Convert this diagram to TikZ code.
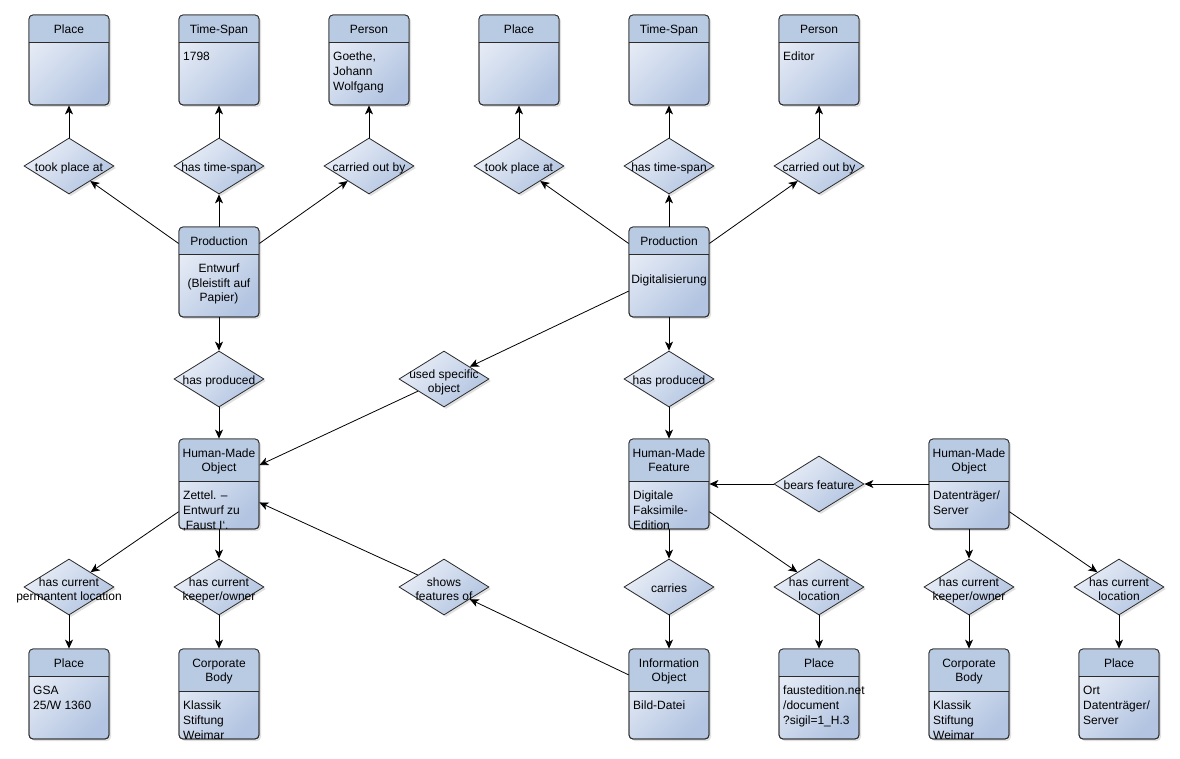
\documentclass[tikz,border=0pt]{standalone}
\usepackage{fontspec}
\setmainfont{Liberation Sans}
\usetikzlibrary{shapes.geometric,arrows.meta,shadows}

\definecolor{headc}{HTML}{B9CAE3}
\definecolor{lightc}{HTML}{E9EEF7}
\definecolor{darkc}{HTML}{B2C4E1}
\definecolor{linec}{HTML}{2B2B2B}

\tikzset{
  entbox/.style={draw=linec, line width=0.8pt, rounded corners=4pt, minimum width=80pt, minimum height=90pt, inner sep=0pt,
    left color=lightc, right color=darkc, shading angle=45,
    drop shadow={shadow xshift=2pt, shadow yshift=-2pt, fill=black, opacity=0.12}},
  reldia/.style={diamond, draw=linec, line width=0.8pt, minimum width=90pt, minimum height=56pt, inner sep=0pt,
    left color=lightc, right color=darkc, shading angle=45,
    drop shadow={shadow xshift=2pt, shadow yshift=-2pt, fill=black, opacity=0.12}},
  htext/.style={font=\fontsize{12}{14}\selectfont, align=center, inner sep=0pt, anchor=north},
  dtext/.style={font=\fontsize{12}{14.5}\selectfont, align=center, inner sep=0pt, anchor=north},
  btext/.style={font=\fontsize{12}{15}\selectfont, align=left, inner sep=0pt, anchor=north west},
  ctext/.style={font=\fontsize{12}{14.5}\selectfont, align=center, inner sep=0pt},
  edge/.style={-{Stealth[length=9pt,width=8pt,inset=2.5pt]}, line width=0.8pt, black},
}

% \ent{name}{cx}{ytop}{headh}{header}
\newcommand\ent[5]{%
  \node[entbox] (#1) at (#2,#3+45) {};
  \begin{scope}
    \clip[rounded corners=4pt] (#2-40,#3) rectangle (#2+40,#3+90);
    \fill[headc] (#2-40,#3) rectangle (#2+40,#3+#4);
  \end{scope}
  \draw[linec, line width=0.8pt] (#2-40,#3+#4) -- (#2+40,#3+#4);
  \draw[linec, line width=0.8pt, rounded corners=4pt] (#2-40,#3) rectangle (#2+40,#3+90);
  \node[htext] (#1h) at (#2,#3+8.7) {\strut #5};
}
% \bod{name}{cx}{ytop}{headh}{text}
\newcommand\bod[5]{%
  \node[btext] (#1) at (#2-36,#3+#4+7.5) {\strut #5};
}
% \rel{name}{cx}{cy}{text offset}{text}
\newcommand\rel[5]{%
  \node[reldia] (#1) at (#2,#3) {};
  \node[dtext] (#1t) at (#2,#3+#4) {\strut #5};
}

\begin{document}
\begin{tikzpicture}[x=1pt,y=-1pt]
\fill[white] (0,0) rectangle (1180,759);
\useasboundingbox (0,0) rectangle (1180,759);

% ---------- top row entities
\ent{placeA}{69}{15}{27}{Place}
\ent{timeA}{219}{15}{27}{Time-Span}
\bod{timeAb}{219}{15}{27}{1798}
\ent{persA}{369}{15}{27}{Person}
\bod{persAb}{369}{15}{27}{Goethe,\\Johann\\Wolfgang}
\ent{placeB}{519}{15}{27}{Place}
\ent{timeB}{669}{15}{27}{Time-Span}
\ent{persB}{819}{15}{27}{Person}
\bod{persBb}{819}{15}{27}{Editor}

% ---------- first row relations
\rel{tookA}{69}{166}{-5}{took place at}
\rel{tsA}{219}{166}{-5}{has time-span}
\rel{carA}{369}{166}{-5}{carried out by}
\rel{tookB}{519}{166}{-5}{took place at}
\rel{tsB}{669}{166}{-5}{has time-span}
\rel{carB}{819}{166}{-5}{carried out by}

% ---------- productions
\ent{prodA}{219}{227}{27}{Production}
\node[ctext] (prodAb) at (219,284) {Entwurf\\(Bleistift auf\\Papier)};
\ent{prodB}{669}{227}{27}{Production}
\node[ctext, anchor=base] (prodBb) at (669,283.5) {Digitalisierung};

% ---------- second row relations
\rel{hpA}{219}{379}{-5}{has produced}
\rel{used}{444}{379}{-11}{used specific\\object}
\rel{hpB}{669}{379}{-5}{has produced}

% ---------- middle entities
\ent{hmoA}{219}{439}{42.5}{Human-Made\\Object}
\bod{hmoAb}{219}{439}{42.5}{Zettel. –\\Entwurf zu\\‚Faust I‘.}
\ent{hmf}{669}{439}{42.5}{Human-Made\\Feature}
\bod{hmfb}{669}{439}{42.5}{Digitale\\Faksimile-\\Edition}
\rel{bears}{819}{484}{-5}{bears feature}
\ent{hmoB}{969}{439}{42.5}{Human-Made\\Object}
\bod{hmoBb}{969}{439}{42.5}{Datenträger/\\Server}

% ---------- third row relations
\rel{hcplA}{69}{587}{-11}{has current\\permantent location}
\rel{hckA}{219}{587}{-11}{has current\\keeper/owner}
\rel{shows}{444}{587}{-11}{shows\\features of}
\rel{carries}{669}{587}{-5}{carries}
\rel{hclB}{819}{587}{-11}{has current\\location}
\rel{hckB}{969}{587}{-11}{has current\\keeper/owner}
\rel{hclC}{1119}{587}{-11}{has current\\location}

% ---------- bottom entities
\ent{placeC}{69}{649}{27}{Place}
\bod{placeCb}{69}{649}{27}{GSA\\25/W 1360}
\ent{corpA}{219}{649}{42.5}{Corporate\\Body}
\bod{corpAb}{219}{649}{42.5}{Klassik\\Stiftung\\Weimar}
\ent{info}{669}{649}{42.5}{Information\\Object}
\bod{infob}{669}{649}{42.5}{Bild-Datei}
\ent{placeD}{819}{649}{27}{Place}
\bod{placeDb}{819}{649}{27}{faustedition.net\\/document\\?sigil=1\_H.3}
\ent{corpB}{969}{649}{42.5}{Corporate\\Body}
\bod{corpBb}{969}{649}{42.5}{Klassik\\Stiftung\\Weimar}
\ent{placeE}{1119}{649}{27}{Place}
\bod{placeEb}{1119}{649}{27}{Ort\\Datenträger/\\Server}

% ---------- connectors
\draw[edge] (prodA) -- (tookA);
\draw[edge] (tookA) -- (placeA);
\draw[edge] (prodA) -- (tsA);
\draw[edge] (tsA) -- (timeA);
\draw[edge] (prodA) -- (carA);
\draw[edge] (carA) -- (persA);
\draw[edge] (prodB) -- (tookB);
\draw[edge] (tookB) -- (placeB);
\draw[edge] (prodB) -- (tsB);
\draw[edge] (tsB) -- (timeB);
\draw[edge] (prodB) -- (carB);
\draw[edge] (carB) -- (persB);

\draw[edge] (prodA) -- (hpA);
\draw[edge] (hpA) -- (hmoA);
\draw[edge] (prodB) -- (used);
\draw[edge] (used) -- (hmoA);
\draw[edge] (prodB) -- (hpB);
\draw[edge] (hpB) -- (hmf);

\draw[edge] (hmoB) -- (bears);
\draw[edge] (bears) -- (hmf);

\draw[edge] (hmoA) -- (hcplA);
\draw[edge] (hcplA) -- (placeC);
\draw[edge] (hmoA) -- (hckA);
\draw[edge] (hckA) -- (corpA);
\draw[edge] (info) -- (shows);
\draw[edge] (shows) -- (hmoA);
\draw[edge] (hmf) -- (carries);
\draw[edge] (carries) -- (info);
\draw[edge] (hmf) -- (hclB);
\draw[edge] (hclB) -- (placeD);
\draw[edge] (hmoB) -- (hckB);
\draw[edge] (hckB) -- (corpB);
\draw[edge] (hmoB) -- (hclC);
\draw[edge] (hclC) -- (placeE);
\end{tikzpicture}
\end{document}
